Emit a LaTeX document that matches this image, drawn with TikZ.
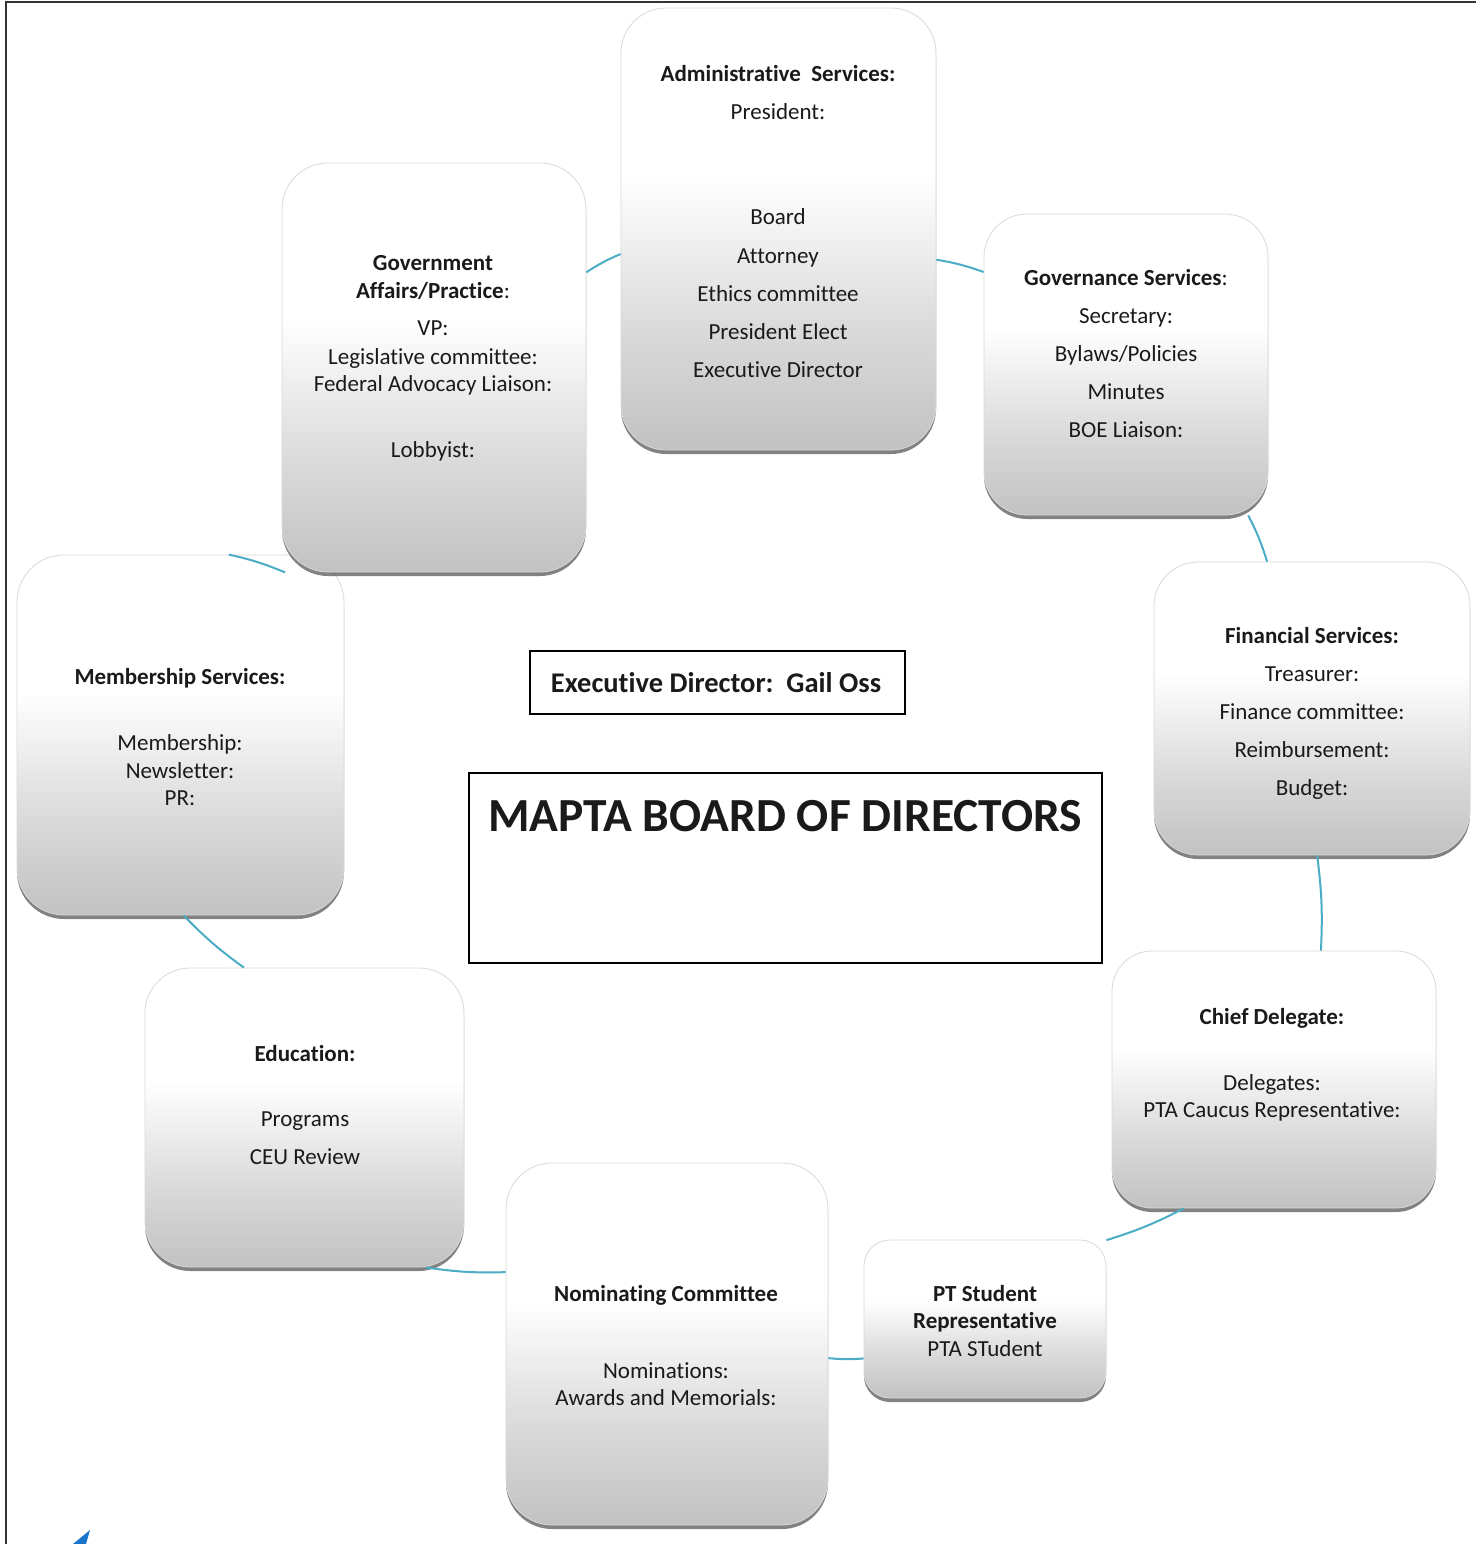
\documentclass[tikz,border=0pt]{standalone}
\usepackage{fontspec}
\setmainfont{Carlito}[Ligatures=NoCommon]
\usetikzlibrary{shadows}
\definecolor{connc}{HTML}{4BACC6}
\definecolor{framec}{HTML}{333333}
\definecolor{tickc}{HTML}{1874CD}
\definecolor{txtc}{HTML}{1A1A1A}
\pgfdeclareverticalshading{boxshade}{100bp}{color(0bp)=(black!24); color(25bp)=(black!24); color(38bp)=(black!15); color(56bp)=(white); color(75bp)=(white); color(100bp)=(white)}
\newcommand\bl[5]{\node[#4] (#1) at (#2,#3) {#5};}
\tikzset{
  rbox/.style={rounded corners=#1, draw=black!15, line width=0.8pt, shading=boxshade,
    drop shadow={shadow xshift=0pt, shadow yshift=-4pt, fill=black!65, opacity=0.75}, inner sep=0pt},
  lt/.style={font=\fontsize{23}{27}\selectfont, text=txtc, anchor=base, inner sep=0pt},
  bt/.style={font=\fontsize{23}{27}\selectfont\bfseries, text=txtc, anchor=base, inner sep=0pt},
  conn/.style={draw=connc, line width=2pt},
  plainbox/.style={draw=black, line width=2pt, inner sep=0pt}
}
\begin{document}
\begin{tikzpicture}[x=1pt,y=-1pt]
\useasboundingbox (0,0) rectangle (1476,1544);
\fill[white] (0,0) rectangle (1476,1544);
% frame
\draw[framec, line width=2pt] (1476,2) -- (6,2) -- (6,1544);
\fill[tickc] (73,1544) -- (90,1530) -- (86,1544) -- cycle;

% boxes
\node[rbox=45pt, minimum width=315pt, minimum height=442pt] (admin) at (778.5,229) {};
\node[rbox=43pt, minimum width=284pt, minimum height=301pt] (gserv) at (1126,364.5) {};
\node[rbox=44pt, minimum width=316pt, minimum height=293pt] (fin) at (1312,708.5) {};
\node[rbox=40pt, minimum width=324pt, minimum height=257pt] (chief) at (1274,1079.5) {};
\node[rbox=26pt, minimum width=242pt, minimum height=158pt] (pt) at (985,1319) {};
\node[rbox=46pt, minimum width=322pt, minimum height=362pt] (nom) at (667,1344) {};
\node[rbox=45pt, minimum width=319pt, minimum height=299pt] (edu) at (304.5,1117.5) {};
\node[rbox=47pt, minimum width=327pt, minimum height=360pt] (mem) at (180.5,735) {};
\node[rbox=46pt, minimum width=304pt, minimum height=409pt] (gov) at (434,367.5) {};

% connectors
\draw[conn] (gov.32.1) to[bend left=5] (admin.189.4);
\draw[conn] (admin.349.9) to[bend left=5] (gserv.147.2);
\draw[conn] (gserv.309) to[bend left=5] (fin.107.1);
\draw[conn] (fin.272.7) to[bend left=5] (chief.70.7);
\draw[conn] (chief.235.6) to[bend left=5] (pt.33.1);
\draw[conn] (pt.198.3) to[bend left=5] (nom.355.4);
\draw[conn] (nom.156.5) to[bend left=5] (edu.309.6);
\draw[conn] (edu.112.4) to[bend left=5] (mem.271.4);
\draw[conn] (mem.75.2) to[bend left=5] (gov.234.1);

% centre boxes
\node[plainbox, minimum width=375pt, minimum height=63pt] (exec) at (717.5,682.5) {};
\node[font=\fontsize{28.5}{32}\selectfont\bfseries, text=txtc, anchor=base, inner sep=0pt] (exectxt) at (716,692) {Executive Director:\ \ Gail Oss};
\node[plainbox, minimum width=633pt, minimum height=190pt] (mapta) at (785.5,868) {};
\node[font=\fontsize{47.5}{51}\selectfont\bfseries, text=txtc, anchor=base, inner sep=0pt] (maptatxt) at (785,831) {MAPTA BOARD OF DIRECTORS};

% admin text
\bl{a1}{778}{82}{bt}{Administrative\ \ Services:}
\bl{a2}{778}{120}{lt}{President:}
\bl{a3}{778}{224}{lt}{Board}
\bl{a4}{778}{263}{lt}{Attorney}
\bl{a5}{778}{301}{lt}{Ethics committee}
\bl{a6}{778}{339}{lt}{President Elect}
\bl{a7}{778}{377}{lt}{Executive Director}
% governance
\bl{g1}{1126}{285}{lt}{\textbf{Governance Services}:}
\bl{g2}{1126}{323}{lt}{Secretary:}
\bl{g3}{1126}{361}{lt}{Bylaws/Policies}
\bl{g4}{1126}{399}{lt}{Minutes}
\bl{g5}{1126}{437}{lt}{BOE Liaison:}
% financial
\bl{f1}{1312}{643}{bt}{Financial Services:}
\bl{f2}{1312}{681}{lt}{Treasurer:}
\bl{f3}{1312}{719}{lt}{Finance committee:}
\bl{f4}{1312}{757}{lt}{Reimbursement:}
\bl{f5}{1312}{795}{lt}{Budget:}
% chief
\bl{c1}{1272}{1024}{bt}{Chief Delegate:}
\bl{c2}{1272}{1090}{lt}{Delegates:}
\bl{c3}{1272}{1117}{lt}{PTA Caucus Representative:}
% pt student
\bl{p1}{985}{1301}{bt}{PT Student}
\bl{p2}{985}{1328}{bt}{Representative}
\bl{p3}{985}{1356}{lt}{PTA STudent}
% nominating
\bl{n1}{666}{1301}{bt}{Nominating Committee}
\bl{n2}{666}{1378}{lt}{Nominations:}
\bl{n3}{666}{1405}{lt}{Awards and Memorials:}
% education
\bl{e1}{305}{1061}{bt}{Education:}
\bl{e2}{305}{1126}{lt}{Programs}
\bl{e3}{305}{1164}{lt}{CEU Review}
% membership
\bl{m1}{180}{684}{bt}{Membership Services:}
\bl{m2}{180}{750}{lt}{Membership:}
\bl{m3}{180}{778}{lt}{Newsletter:}
\bl{m4}{180}{805}{lt}{PR:}
% government
\bl{v1}{433}{270}{bt}{Government}
\bl{v2}{433}{298}{lt}{\textbf{Affairs/Practice}:}
\bl{v3}{433}{335}{lt}{VP:}
\bl{v4}{433}{364}{lt}{Legislative committee:}
\bl{v5}{433}{391}{lt}{Federal Advocacy Liaison:}
\bl{v6}{433}{457}{lt}{Lobbyist:}
\end{tikzpicture}
\end{document}
